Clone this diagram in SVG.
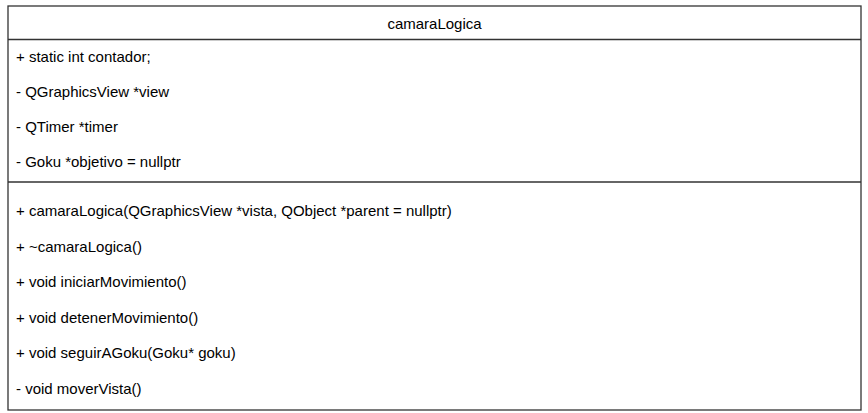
<svg xmlns="http://www.w3.org/2000/svg" width="868" height="413" viewBox="0 0 868 413">
<style>
.t{font-family:"Liberation Sans",Arial,sans-serif;font-size:15px;fill:#000}
.ln{stroke:#333;stroke-width:1.3;fill:none}
</style>
<rect width="868" height="413" fill="#fff"/>
<g id="camaraLogica">
<rect x="8" y="6" width="853" height="404" fill="#fff" class="ln"/>
<line x1="8" y1="39.5" x2="861" y2="39.5" class="ln"/>
<line x1="8" y1="182" x2="861" y2="182" class="ln"/>
<text class="t" x="434.5" y="29" text-anchor="middle">camaraLogica</text>
<text class="t" x="16" y="62">+ static int contador;</text>
<text class="t" x="16" y="97">- QGraphicsView *view</text>
<text class="t" x="16" y="131.5">- QTimer *timer</text>
<text class="t" x="16" y="166.5">- Goku *objetivo = nullptr</text>
<text class="t" x="16" y="216">+ camaraLogica(QGraphicsView *vista, QObject *parent = nullptr)</text>
<text class="t" x="16" y="251.5">+ ~camaraLogica()</text>
<text class="t" x="16" y="287">+ void iniciarMovimiento()</text>
<text class="t" x="16" y="322.7">+ void detenerMovimiento()</text>
<text class="t" x="16" y="358.3">+ void seguirAGoku(Goku* goku)</text>
<text class="t" x="16" y="394">- void moverVista()</text>
</g>
<g id="connectors"></g>
</svg>
